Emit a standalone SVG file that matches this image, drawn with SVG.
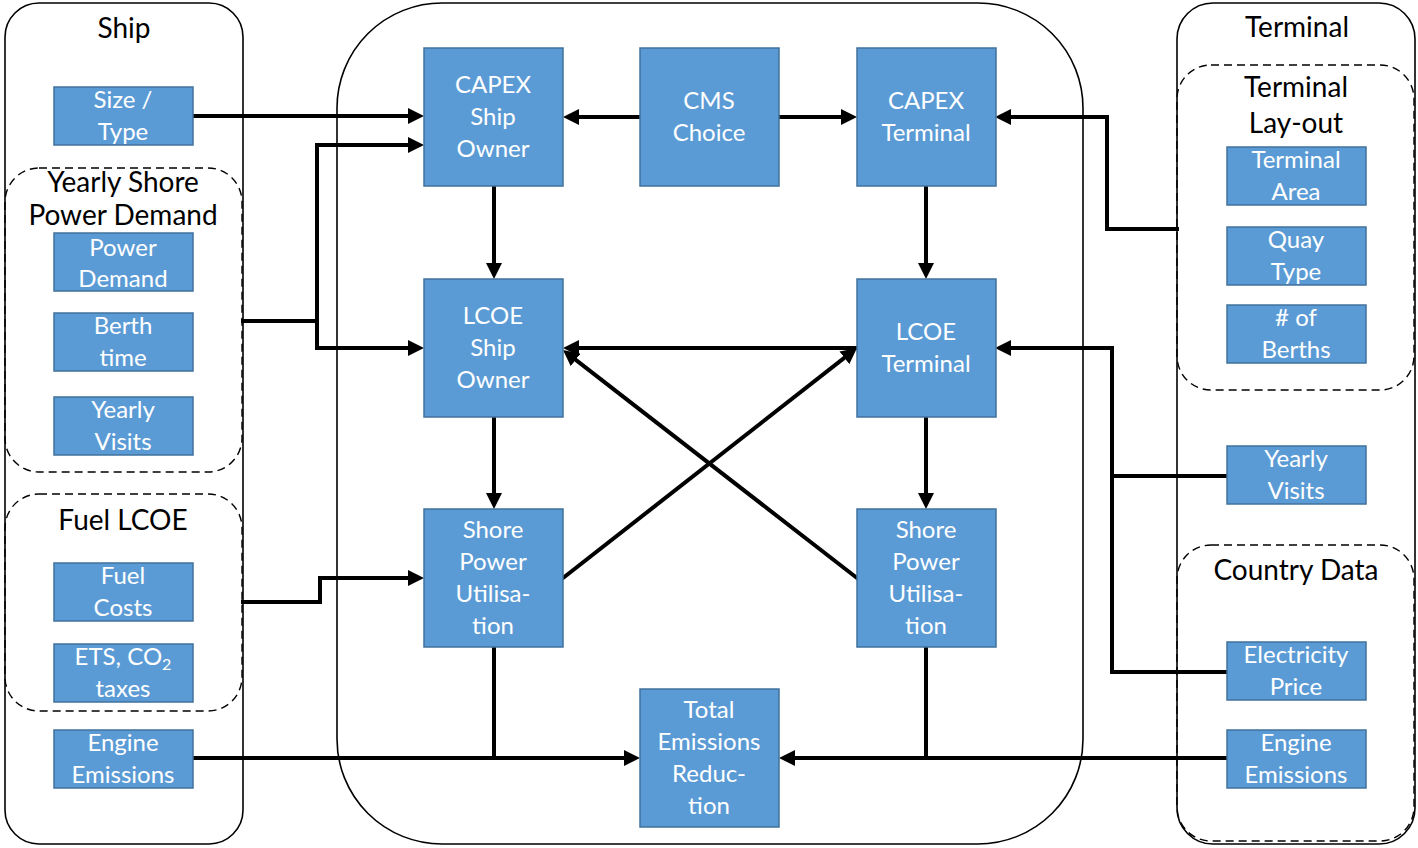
<svg xmlns="http://www.w3.org/2000/svg" width="1418" height="848" viewBox="0 0 1418 848">
<style>
.cont{fill:none;stroke:#000;stroke-width:1.6}
.dash{fill:none;stroke:#000;stroke-width:1.4;stroke-dasharray:8 5}
.node{fill:#5B9BD5;stroke:#41719C;stroke-width:1.5}
.nt{font-family:Lato,"Open Sans","Liberation Sans",sans-serif;font-size:24px;fill:#fff;text-anchor:middle}
.tt{font-family:Lato,"Open Sans","Liberation Sans",sans-serif;font-size:28px;fill:#000;text-anchor:middle}
.c{fill:none;stroke:#000;stroke-width:4;stroke-linecap:square}
.a{marker-end:url(#arr)}
</style>
<defs>
<marker id="arr" markerUnits="userSpaceOnUse" markerWidth="16" markerHeight="16" refX="8" refY="8" orient="auto">
<path d="M0,0 L16,8 L0,16 z" fill="#000"/>
</marker>
</defs>
<rect width="1418" height="848" fill="#fff"/>

<g id="containers">
<rect id="ship-container" class="cont" x="5" y="3" width="238" height="841" rx="34"/>
<rect id="central-container" class="cont" x="337" y="3" width="746" height="841" rx="105"/>
<rect id="terminal-container" class="cont" x="1177" y="3" width="238" height="841" rx="36"/>
<text class="tt" x="124" y="38">Ship</text>
<text class="tt" x="1297" y="37">Terminal</text>
</g>

<g id="yearly-shore-group">
<rect class="dash" x="5" y="168" width="237" height="304" rx="34"/>
<text class="tt" x="123" y="192">Yearly Shore</text>
<text class="tt" x="123" y="225">Power Demand</text>
</g>
<g id="fuel-lcoe-group">
<rect class="dash" x="5" y="494" width="237" height="217" rx="34"/>
<text class="tt" x="123" y="530">Fuel LCOE</text>
</g>
<g id="terminal-layout-group">
<rect class="dash" x="1177" y="65" width="237" height="325" rx="34"/>
<text class="tt" x="1296" y="97">Terminal</text>
<text class="tt" x="1296" y="133">Lay-out</text>
</g>
<g id="country-data-group">
<rect class="dash" x="1177" y="545" width="237" height="296" rx="34"/>
<text class="tt" x="1296" y="580">Country Data</text>
</g>

<g id="connectors">
<path class="c a" d="M193,116 H416"/>
<path class="c" d="M243,321 H317"/>
<path class="c" d="M317,145 V348"/>
<path class="c a" d="M317,145 H416"/>
<path class="c a" d="M317,348 H416"/>
<path class="c a" d="M243,602 H320 V578 H416"/>
<path class="c a" d="M193,758 H632"/>
<path class="c" d="M494,647 V758"/>
<path class="c a" d="M1227,758 H787"/>
<path class="c" d="M926,647 V758"/>
<path class="c a" d="M640,117 H571"/>
<path class="c a" d="M778,117 H849"/>
<path class="c a" d="M1177,229 H1107 V117 H1003"/>
<path class="c a" d="M494,186 V271"/>
<path class="c a" d="M926,186 V271"/>
<path class="c a" d="M494,417 V501"/>
<path class="c a" d="M926,417 V501"/>
<path class="c a" d="M857,348 H571"/>
<path class="c a" d="M563,578 L850.7,352.9"/>
<path class="c a" d="M857,578 L569.3,354.9"/>
<path class="c" d="M1227,476 H1112"/>
<path class="c" d="M1112,348 V672"/>
<path class="c a" d="M1112,348 H1003"/>
<path class="c" d="M1227,672 H1112"/>
</g>

<g id="size-type"><rect class="node" x="54" y="87" width="139" height="58"/>
<text class="nt" x="123" y="108">Size /</text><text class="nt" x="123" y="140">Type</text></g>
<g id="power-demand"><rect class="node" x="54" y="233" width="139" height="58"/>
<text class="nt" x="123" y="256">Power</text><text class="nt" x="123" y="287">Demand</text></g>
<g id="berth-time"><rect class="node" x="54" y="313" width="139" height="58"/>
<text class="nt" x="123" y="334">Berth</text><text class="nt" x="123" y="366">time</text></g>
<g id="yearly-visits-ship"><rect class="node" x="54" y="397" width="139" height="58"/>
<text class="nt" x="123" y="418">Yearly</text><text class="nt" x="123" y="450">Visits</text></g>
<g id="fuel-costs"><rect class="node" x="54" y="563" width="139" height="58"/>
<text class="nt" x="123" y="584">Fuel</text><text class="nt" x="123" y="616">Costs</text></g>
<g id="ets-co2"><rect class="node" x="54" y="644" width="139" height="58"/>
<text class="nt" x="123" y="665">ETS, CO<tspan font-size="16" dy="5">2</tspan></text><text class="nt" x="123" y="697">taxes</text></g>
<g id="engine-emissions-ship"><rect class="node" x="54" y="730" width="139" height="58"/>
<text class="nt" x="123" y="751">Engine</text><text class="nt" x="123" y="783">Emissions</text></g>

<g id="capex-ship-owner"><rect class="node" x="424" y="48" width="139" height="138"/>
<text class="nt" x="493" y="93">CAPEX</text><text class="nt" x="493" y="125">Ship</text><text class="nt" x="493" y="157">Owner</text></g>
<g id="cms-choice"><rect class="node" x="640" y="48" width="139" height="138"/>
<text class="nt" x="709" y="109">CMS</text><text class="nt" x="709" y="141">Choice</text></g>
<g id="capex-terminal"><rect class="node" x="857" y="48" width="139" height="138"/>
<text class="nt" x="926" y="109">CAPEX</text><text class="nt" x="926" y="141">Terminal</text></g>
<g id="lcoe-ship-owner"><rect class="node" x="424" y="279" width="139" height="138"/>
<text class="nt" x="493" y="324">LCOE</text><text class="nt" x="493" y="356">Ship</text><text class="nt" x="493" y="388">Owner</text></g>
<g id="lcoe-terminal"><rect class="node" x="857" y="279" width="139" height="138"/>
<text class="nt" x="926" y="340">LCOE</text><text class="nt" x="926" y="372">Terminal</text></g>
<g id="shore-power-ship"><rect class="node" x="424" y="509" width="139" height="138"/>
<text class="nt" x="493" y="538">Shore</text><text class="nt" x="493" y="570">Power</text><text class="nt" x="493" y="602">Utilisa-</text><text class="nt" x="493" y="634">tion</text></g>
<g id="shore-power-terminal"><rect class="node" x="857" y="509" width="139" height="138"/>
<text class="nt" x="926" y="538">Shore</text><text class="nt" x="926" y="570">Power</text><text class="nt" x="926" y="602">Utilisa-</text><text class="nt" x="926" y="634">tion</text></g>
<g id="total-emissions"><rect class="node" x="640" y="689" width="139" height="138"/>
<text class="nt" x="709" y="718">Total</text><text class="nt" x="709" y="750">Emissions</text><text class="nt" x="709" y="782">Reduc-</text><text class="nt" x="709" y="814">tion</text></g>

<g id="terminal-area"><rect class="node" x="1227" y="147" width="139" height="58"/>
<text class="nt" x="1296" y="168">Terminal</text><text class="nt" x="1296" y="200">Area</text></g>
<g id="quay-type"><rect class="node" x="1227" y="227" width="139" height="58"/>
<text class="nt" x="1296" y="248">Quay</text><text class="nt" x="1296" y="280">Type</text></g>
<g id="num-berths"><rect class="node" x="1227" y="305" width="139" height="58"/>
<text class="nt" x="1296" y="326"># of</text><text class="nt" x="1296" y="358">Berths</text></g>
<g id="yearly-visits-terminal"><rect class="node" x="1227" y="446" width="139" height="58"/>
<text class="nt" x="1296" y="467">Yearly</text><text class="nt" x="1296" y="499">Visits</text></g>
<g id="electricity-price"><rect class="node" x="1227" y="642" width="139" height="58"/>
<text class="nt" x="1296" y="663">Electricity</text><text class="nt" x="1296" y="695">Price</text></g>
<g id="engine-emissions-terminal"><rect class="node" x="1227" y="730" width="139" height="58"/>
<text class="nt" x="1296" y="751">Engine</text><text class="nt" x="1296" y="783">Emissions</text></g>
</svg>
